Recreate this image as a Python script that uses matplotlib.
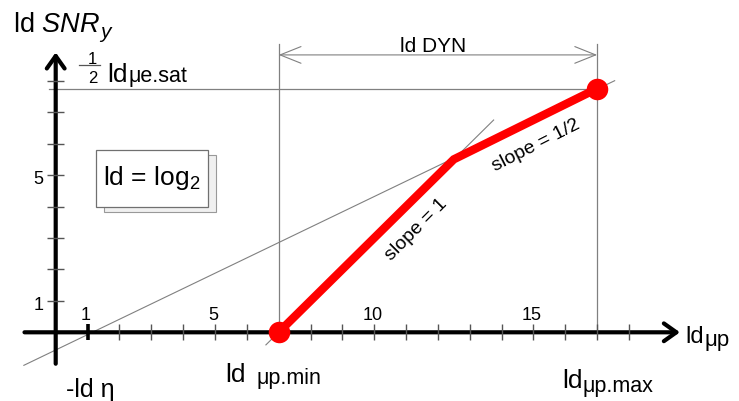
import matplotlib
matplotlib.use("Agg")
import matplotlib.pyplot as plt
from matplotlib.patches import Rectangle

plt.rcParams['font.family'] = ['Liberation Sans', 'DejaVu Sans']
plt.rcParams['mathtext.fontset'] = 'custom'
plt.rcParams['mathtext.rm'] = 'Liberation Sans'
plt.rcParams['mathtext.it'] = 'Liberation Sans:italic'
plt.rcParams['mathtext.sf'] = 'Liberation Sans'

# ---- data ----
curve_x = [7, 12.5, 17]          # ld mu_p.min, knee, ld mu_p.max
curve_y = [0, 5.5, 7.75]
dot_x = [7, 17]
dot_y = [0, 7.75]
asym1_x = [6.6, 13.75]           # slope = 1 helper line
asym1_y = [-0.4, 6.75]
asym2_x = [-1.0, 17.55]          # slope = 1/2 helper line
asym2_y = [-1.05, 8.0]
sat_level = 7.75
dyn_range = [7, 17]
x_ticks = list(range(1, 19))
y_ticks = list(range(1, 9))
x_tick_labels = {1: '1', 5: '5', 10: '10', 15: '15'}
y_tick_labels = {1: '1', 5: '5'}

W, H = 739, 402
fig = plt.figure(figsize=(W / 100, H / 100), dpi=100)
ax = fig.add_axes([0, 0, 1, 1])
sx, sy = 31.85, 31.45
ox, oy = 55.7, 333.3
ax.set_xlim(-ox / sx, (W - ox) / sx)
ax.set_ylim(-(H - oy) / sy, oy / sy)
ax.axis('off')

gray = '#808080'

# axes with arrows
for xy, xyt in [((19.6, 0), (-0.98, 0)), ((0, 8.9), (0, -1.0))]:
    ax.annotate('', xy=xy, xytext=xyt,
                arrowprops=dict(arrowstyle='->,head_length=0.45,head_width=0.32',
                                lw=3.0, color='black', mutation_scale=20,
                                shrinkA=0, shrinkB=0), zorder=3)

# ticks
for t in x_ticks:
    ax.plot([t, t], [-0.26, 0.26], color='black' if t == 1 else '#555555',
            lw=2.6 if t == 1 else 1.0, zorder=3, solid_capstyle='butt')
for t in y_ticks:
    ax.plot([-0.26, 0.26], [t, t], color='#555555', lw=1.0, zorder=3,
            solid_capstyle='butt')
for t, lab in x_tick_labels.items():
    ax.text(t - 0.05, 0.42, lab, ha='center', va='baseline', fontsize=13)
for t, lab in y_tick_labels.items():
    ax.text(-0.38, t - 0.12, lab, ha='right', va='center', fontsize=13)

# helper lines
ax.plot(asym1_x, asym1_y, color=gray, lw=0.8, zorder=2)
ax.plot(asym2_x, asym2_y, color=gray, lw=0.8, zorder=2)
ax.plot([-0.2, dyn_range[1]], [sat_level, sat_level], color=gray, lw=0.9, zorder=2)
for xv in dyn_range:
    ax.plot([xv, xv], [0, 9.17], color=gray, lw=0.9, zorder=2)

# DYN arrow
ax.annotate('', xy=(dyn_range[0], 8.82), xytext=(dyn_range[1], 8.82),
            arrowprops=dict(arrowstyle='<->,head_length=0.75,head_width=0.3',
                            lw=0.8, color=gray, mutation_scale=20,
                            shrinkA=0, shrinkB=0))
ax.text(sum(dyn_range) / 2 - 0.15, 8.95, 'ld DYN', ha='center', va='baseline',
        fontsize=15)

# red curve
ax.plot(curve_x, curve_y, color='#ff0000', lw=6, zorder=5,
        solid_joinstyle='miter', solid_capstyle='butt')
ax.plot(dot_x, dot_y, 'o', color='#ff0000', ms=15.5, mec='none', zorder=6)

# slope labels
ax.text(11.33, 3.29, 'slope = 1', rotation=45, ha='center', va='center',
        fontsize=14, rotation_mode='anchor')
ax.text(15.07, 5.96, 'slope = 1/2', rotation=27, ha='center', va='center',
        fontsize=14, rotation_mode='anchor')

# ld = log2 box
ax.add_patch(Rectangle((1.51, 3.82), 3.52, 1.81, facecolor='#f0f0f0',
                       edgecolor='#999999', lw=0.8, zorder=3))
ax.add_patch(Rectangle((1.255, 4.0), 3.515, 1.81, facecolor='white',
                       edgecolor='#707070', lw=0.9, zorder=4))
ax.text(3.0, 4.93, r'ld = log$_{2}$', ha='center', va='center', fontsize=19,
        zorder=5)


def label_sub(x, y, main, sub, fs_main, fs_sub, gap_pt, drop_pt, sub_style='normal'):
    t = ax.text(x, y, main, ha='left', va='baseline', fontsize=fs_main)
    ax.annotate(sub, xy=(1, y), xycoords=(t, 'data'),
                xytext=(gap_pt, -drop_pt), textcoords='offset points',
                ha='left', va='baseline', fontsize=fs_sub, style=sub_style)
    return t


# y-axis title
label_sub(-1.34, 9.59, r'ld $\mathit{SNR}$', 'y', 19.5, 15, 0.0, 4.5, 'italic')

# 1/2 ld mu_e.sat
ax.plot([0.73, 1.39], [8.5, 8.5], color='#555555', lw=0.9)
ax.text(1.155, 8.72, '1', ha='center', va='center', fontsize=12)
ax.text(1.17, 8.09, '2', ha='center', va='center', fontsize=12)
label_sub(1.61, 7.99, 'ld', 'μe.sat', 19, 15.5, 1.0, 0.0)

# x-axis related labels
ax.text(0.33, -2.02, '-ld η', ha='left', va='baseline', fontsize=18)
label_sub(5.32, -1.54, 'ld', 'μp.min', 19, 15.5, 8.0, 1.5)
label_sub(15.89, -1.75, 'ld', 'μp.max', 19, 15.5, 0.5, 2.5)
label_sub(19.76, -0.32, 'ld', 'μp', 17, 16, 0.5, 2.0)

fig.savefig('out.png', dpi=100)
